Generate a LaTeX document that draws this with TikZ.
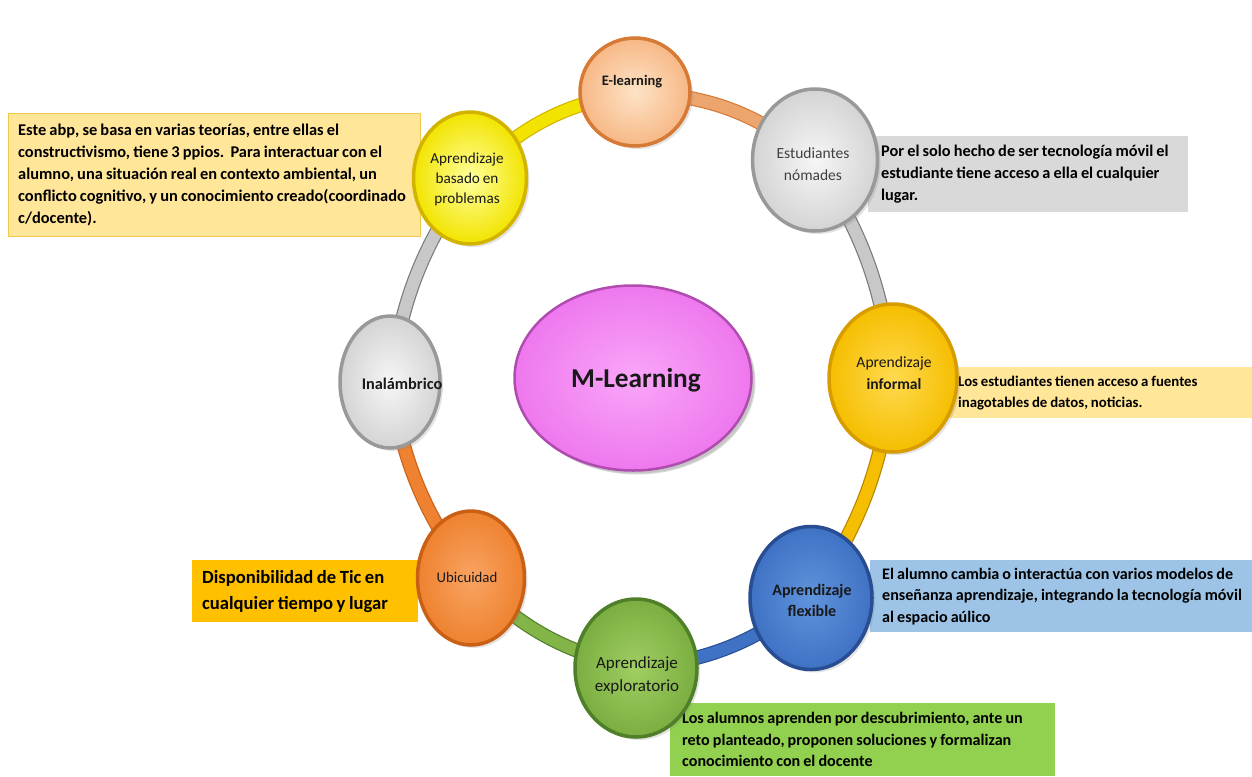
\documentclass[tikz,border=0pt]{standalone}
\usepackage{fontspec}
\setmainfont{Carlito}[WordSpace=0.85]
\usetikzlibrary{shapes.geometric,backgrounds,shadows}

% palette
\definecolor{noteyel}{HTML}{FFE699}
\definecolor{noteyeldk}{HTML}{F2C84B}
\definecolor{notegray}{HTML}{D9D9D9}
\definecolor{noteblue}{HTML}{9DC3E6}
\definecolor{notegreen}{HTML}{92D050}
\definecolor{notegold}{HTML}{FFC000}
\definecolor{orgL}{HTML}{FDE3C6}\definecolor{orgM}{HTML}{F7B886}\definecolor{orgR}{HTML}{D77A35}
\definecolor{gryL}{HTML}{F6F6F6}\definecolor{gryM}{HTML}{D4D4D4}\definecolor{gryR}{HTML}{999999}
\definecolor{yelL}{HTML}{FFFF9C}\definecolor{yelM}{HTML}{F2E400}\definecolor{yelR}{HTML}{D2B400}
\definecolor{gldL}{HTML}{FFDA50}\definecolor{gldM}{HTML}{F5BE00}\definecolor{gldR}{HTML}{D69C00}
\definecolor{ubiL}{HTML}{F9A462}\definecolor{ubiM}{HTML}{EE8230}\definecolor{ubiR}{HTML}{C96016}
\definecolor{bluL}{HTML}{6094DC}\definecolor{bluM}{HTML}{3F72C4}\definecolor{bluR}{HTML}{284D92}
\definecolor{grnL}{HTML}{A0CE62}\definecolor{grnM}{HTML}{7AAE40}\definecolor{grnR}{HTML}{4F7F28}
\definecolor{pnkL}{HTML}{F9A6F9}\definecolor{pnkM}{HTML}{EE78EE}\definecolor{pnkR}{HTML}{B04CB0}

\begin{document}
\begin{tikzpicture}[x=1pt,y=-1pt,
  disc/.style n args={3}{ellipse, shade, inner color=#1, outer color=#2,
    draw=#3, line width=3.5pt, inner sep=0pt,
    drop shadow={opacity=0.22, shadow xshift=3pt, shadow yshift=-3pt}},
  lbl/.style={align=center, text=black!90, inner sep=0pt},
  notebox/.style={anchor=north west, inner sep=0pt},
  notetext/.style={anchor=west, align=left, inner sep=0pt, text=black},
  band/.style 2 args={line width=1.2pt, draw=#2, double=#1, double distance=12pt}]

\useasboundingbox (0,0) rectangle (1252,776);

% side notes: a box, then its text set flush left inside it
\node[notebox, fill=noteyel, draw=noteyeldk, minimum width=412pt, minimum height=123pt] (nabp) at (8,113) {};
\node[notetext, font=\bfseries\fontsize{16.4}{22}\selectfont] (tnabp) at ([xshift=10pt]nabp.west)
  {Este abp, se basa en varias teorías, entre ellas el\\
   constructivismo, tiene 3 ppios.\ \ Para interactuar con el\\
   alumno, una situación real en contexto ambiental, un\\
   conflicto cognitivo, y un conocimiento creado(coordinado\\
   c/docente).};

\node[notebox, fill=notegray, minimum width=320pt, minimum height=76pt] (nest) at (868,136) {};
\node[notetext, font=\bfseries\fontsize{16.3}{22}\selectfont] (tnest) at ([xshift=13pt]nest.west)
  {Por el solo hecho de ser tecnología móvil el\\
   estudiante tiene acceso a ella el cualquier\\
   lugar.};

\node[notebox, fill=noteyel, minimum width=304pt, minimum height=51pt] (ninf) at (948,367) {};
\node[notetext, font=\bfseries\fontsize{14.8}{21}\selectfont] (tninf) at ([xshift=10pt]ninf.west)
  {Los estudiantes tienen acceso a fuentes\\
   inagotables de datos, noticias.};

\node[notebox, fill=noteblue, minimum width=382pt, minimum height=72pt] (nflx) at (870,560) {};
\node[notetext, font=\bfseries\fontsize{16.1}{21.5}\selectfont] (tnflx) at ([xshift=12pt]nflx.west)
  {El alumno cambia o interactúa con varios modelos de\\
   enseñanza aprendizaje, integrando la tecnología móvil\\
   al espacio aúlico};

\node[notebox, fill=notegreen, minimum width=385pt, minimum height=73pt] (nexp) at (670,703) {};
\node[notetext, font=\bfseries\fontsize{16.1}{21.5}\selectfont] (tnexp) at ([xshift=12pt]nexp.west)
  {Los alumnos aprenden por descubrimiento, ante un\\
   reto planteado, proponen soluciones y formalizan\\
   conocimiento con el docente};

\node[notebox, fill=notegold, minimum width=226pt, minimum height=62pt] (nubi) at (192,560) {};
\node[notetext, font=\bfseries\fontsize{18.6}{26}\selectfont] (tnubi) at ([xshift=10pt]nubi.west)
  {Disponibilidad de Tic en\\
   cualquier tiempo y lugar};

% ring of discs
\node[disc={orgL}{orgM}{orgR}, minimum width=110pt, minimum height=108pt] (elr) at (635,92) {};
\node[disc={gryL}{gryM}{gryR}, minimum width=125pt, minimum height=142pt] (est) at (815,160) {};
\node[disc={gldL}{gldM}{gldR}, minimum width=128pt, minimum height=148pt] (inf) at (893,378) {};
\node[disc={bluL}{bluM}{bluR}, minimum width=122pt, minimum height=143pt] (flx) at (811,598) {};
\node[disc={grnL}{grnM}{grnR}, minimum width=122pt, minimum height=138pt] (exp) at (636,668) {};
\node[disc={ubiL}{ubiM}{ubiR}, minimum width=107pt, minimum height=134pt] (ubi) at (471,578) {};
\node[disc={gryL}{gryM}{gryR}, minimum width=100pt, minimum height=132pt] (ina) at (390,382) {};
\node[disc={yelL}{yelM}{yelR}, minimum width=113pt, minimum height=132pt] (abp) at (470,178) {};

% centre
\node[disc={pnkL}{pnkM}{pnkR}, line width=2.5pt, minimum width=237pt, minimum height=185pt,
  drop shadow={opacity=0.3, shadow xshift=4pt, shadow yshift=-4pt}] (ml) at (633,378) {};

% labels
\node[lbl, font=\bfseries\fontsize{14.5}{18}\selectfont] (telr) at (632,82) {E-learning};
\node[lbl, text=black!75, font=\fontsize{15.5}{22}\selectfont] (test) at (813,164) {Estudiantes\\nómades};
\node[lbl, font=\fontsize{15.2}{20}\selectfont] (tabp) at (467,179) {Aprendizaje\\basado en\\problemas};
\node[lbl, font=\bfseries\fontsize{16.3}{18}\selectfont] (tina) at (402,384) {Inalámbrico};
\node[lbl, font=\fontsize{15.6}{22}\selectfont] (tinf) at (894,373) {Aprendizaje\\\textbf{informal}};
\node[lbl, font=\fontsize{14.8}{18}\selectfont] (tubi) at (467,577) {Ubicuidad};
\node[lbl, font=\bfseries\fontsize{16}{21}\selectfont] (tflx) at (812,600) {Aprendizaje\\flexible};
\node[lbl, font=\fontsize{17}{23}\selectfont] (texp) at (637,675) {Aprendizaje\\exploratorio};
\node[lbl, font=\bfseries\fontsize{27.3}{30}\selectfont] (tml) at (636,380) {M-Learning};

% ring bands behind the discs
\begin{pgfonlayer}{background}
\draw[band={yelM}{yelR}] (abp.center) to[bend left=18] (elr.center);
\draw[band={orgM!70!orgR}{orgR}] (elr.center) to[bend left=18] (est.center);
\draw[band={gryM!80!gryR}{gryR!80!black}] (est.center) to[bend left=13] (inf.center);
\draw[band={gldM}{gldR!85!black}] (inf.center) to[bend left=13] (flx.center);
\draw[band={bluM}{bluR}] (flx.center) to[bend left=16] (exp.center);
\draw[band={grnM!80!grnL}{grnR}] (exp.center) to[bend left=16] (ubi.center);
\draw[band={ubiM}{ubiR}] (ubi.center) to[bend left=13] (ina.center);
\draw[band={gryM!80!gryR}{gryR!80!black}] (ina.center) to[bend left=13] (abp.center);
\end{pgfonlayer}
\end{tikzpicture}
\end{document}
